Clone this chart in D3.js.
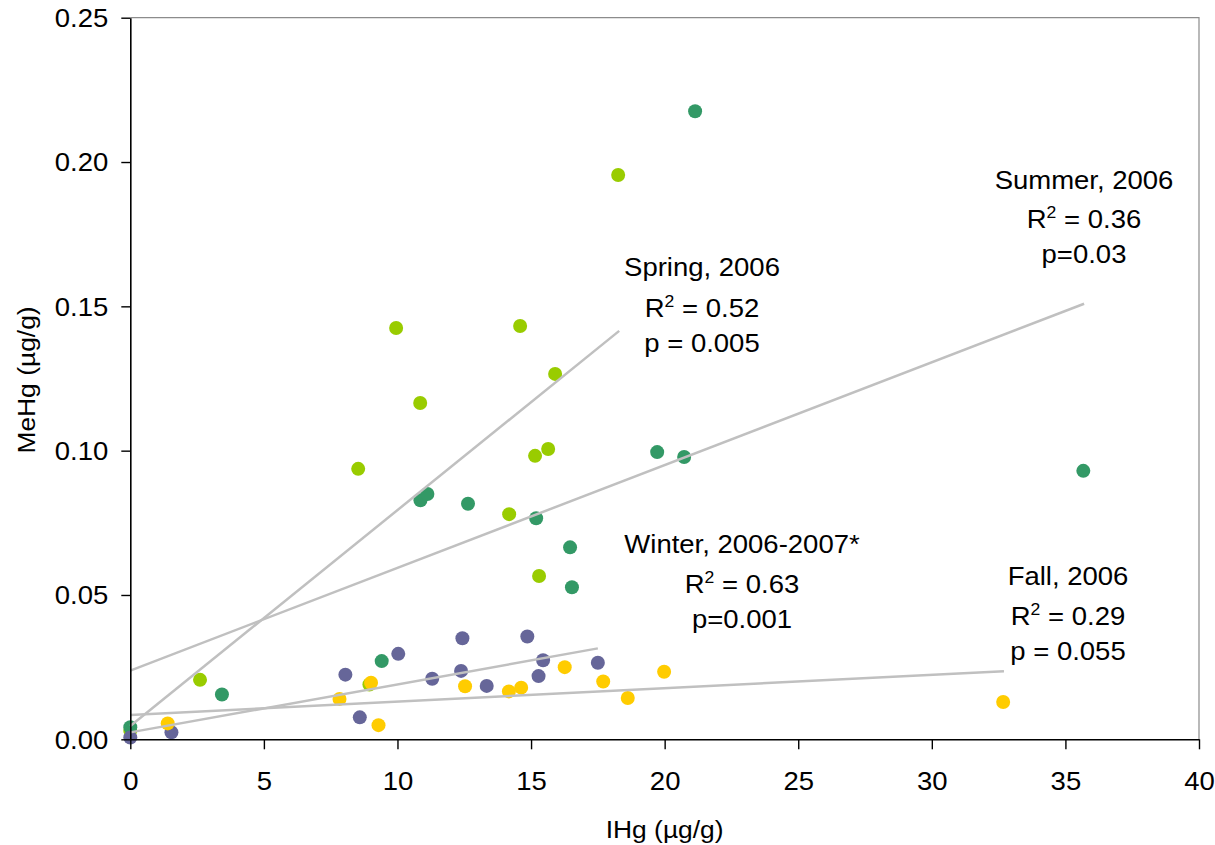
<!DOCTYPE html>
<html><head><meta charset="utf-8">
<script src="https://cdn.jsdelivr.net/npm/d3@7"></script>
<style>
body{margin:0;background:#fff}
svg{display:block}
text{font-family:"Liberation Sans",Arial,sans-serif;fill:#000}
</style>
</head><body>
<svg id="c" width="1215" height="845"></svg>
<script>
// ---- data ----
const xTicks = [0, 5, 10, 15, 20, 25, 30, 35, 40];
const yTicks = [0, 0.05, 0.10, 0.15, 0.20, 0.25];
const xTitle = "IHg (\u00b5g/g)";
const yTitle = "MeHg (\u00b5g/g)";

const springX = [18.26, 9.95, 14.59, 15.9, 10.85, 8.53, 15.64, 15.15, 14.18, 15.3, 2.61, 8.95, 0.0];
const springY = [0.1955, 0.1425, 0.1432, 0.1266, 0.1165, 0.0937, 0.1006, 0.0982, 0.078, 0.0566, 0.0206, 0.019, 0.003];

const summerX = [21.14, 35.67, 19.72, 20.73, 10.86, 11.12, 12.64, 15.19, 16.46, 16.53, 9.41, 3.43, 0.0];
const summerY = [0.2176, 0.093, 0.0995, 0.0978, 0.0828, 0.085, 0.0816, 0.0766, 0.0665, 0.0527, 0.0271, 0.0155, 0.0042];

const winterX = [8.05, 10.03, 8.59, 11.3, 12.43, 12.38, 13.34, 14.86, 15.45, 15.28, 17.5, 1.54, 0.0];
const winterY = [0.0224, 0.0296, 0.0076, 0.021, 0.035, 0.0237, 0.0185, 0.0356, 0.0274, 0.0219, 0.0265, 0.0024, 0.0006];

const fallX = [7.83, 9.01, 9.29, 12.53, 14.17, 14.63, 16.26, 17.7, 18.62, 19.98, 1.4, 32.67];
const fallY = [0.014, 0.0196, 0.0049, 0.0184, 0.0166, 0.0179, 0.025, 0.02, 0.0143, 0.0234, 0.0055, 0.0129];

// regression line endpoints [x, y]
const springFit = [[0, 0.0046], [18.3, 0.1415]];
const summerFit = [[0, 0.0238], [35.7, 0.1509]];
const winterFit = [[0, 0.0024], [17.5, 0.0315]];
const fallFit   = [[0, 0.0084], [32.7, 0.0236]];

const seasonNames = ["Spring, 2006", "Summer, 2006", "Winter, 2006-2007*", "Fall, 2006"];
const r2Values = ["0.52", "0.36", "0.63", "0.29"];
const pTexts = ["p = 0.005", "p=0.03", "p=0.001", "p = 0.055"];

// ---- layout ----
const svg = d3.select("#c");
const L = 130.3, R = 1199, T = 17.7, B = 739.3;
const SX = 1.1; // horizontal glyph stretch of the source
const FS = 25;

const x = d3.scaleLinear().domain([0, 40]).range([L, R]);
const y = d3.scaleLinear().domain([0, 0.25]).range([B, T]);

const colors = ["#99CC00", "#339966", "#666699", "#FFCC00"];

// frame (top & right)
svg.append("path")
  .attr("d", `M${L},${T}H${R}V${B}`)
  .attr("fill", "none").attr("stroke", "#8c8c8c").attr("stroke-width", 1.2);

// points
const series = [
  [springX, springY], [summerX, summerY], [winterX, winterY], [fallX, fallY]
];
series.forEach((s, i) => {
  svg.append("g").selectAll("circle")
    .data(s[0].map((v, k) => [v, s[1][k]]))
    .join("circle")
    .attr("cx", d => x(d[0])).attr("cy", d => y(d[1]))
    .attr("r", 7).attr("fill", colors[i]);
});

// regression lines
const line = d3.line().x(d => x(d[0])).y(d => y(d[1]));
[springFit, summerFit, winterFit, fallFit].forEach(f => {
  svg.append("path").attr("d", line(f))
    .attr("fill", "none").attr("stroke", "#c0c0c0").attr("stroke-width", 2.5);
});

// axes
const yAxis = svg.append("g").attr("transform", `translate(${L},0)`)
  .call(d3.axisLeft(y).tickValues(yTicks).tickFormat(d3.format(".2f")).tickSize(9).tickSizeOuter(0));
yAxis.select(".domain").attr("stroke", "#000").attr("stroke-width", 1.6);
yAxis.selectAll(".tick line").attr("stroke", "#000").attr("stroke-width", 1.4);
yAxis.selectAll(".tick text")
  .attr("x", 0).attr("dy", "0.35em").attr("text-anchor", "end")
  .attr("font-size", FS).attr("font-family", null).attr("fill", "#000")
  .attr("transform", `translate(-22,0) scale(${SX},1)`);

const xAxis = svg.append("g").attr("transform", `translate(0,${B})`)
  .call(d3.axisBottom(x).tickValues(xTicks).tickFormat(d3.format("d")).tickSize(10).tickSizeOuter(0));
xAxis.select(".domain").attr("stroke", "#000").attr("stroke-width", 1.6);
xAxis.selectAll(".tick line").attr("stroke", "#000").attr("stroke-width", 1.4);
xAxis.selectAll(".tick text")
  .attr("y", 0).attr("dy", 0).attr("text-anchor", "middle")
  .attr("font-size", FS).attr("font-family", null).attr("fill", "#000")
  .attr("transform", `translate(0,51) scale(${SX},1)`);
svg.selectAll(".tick text").attr("font-family", null);
svg.selectAll("g").attr("font-family", null).attr("font-size", null);

// axis titles
svg.append("text")
  .attr("transform", `translate(${(L + R) / 2},838) scale(${SX},1)`)
  .attr("text-anchor", "middle").attr("font-size", 24)
  .text(xTitle);
svg.append("text")
  .attr("transform", `translate(35,380) rotate(-90) scale(${SX},1)`)
  .attr("text-anchor", "middle").attr("font-size", 24)
  .text(yTitle);

// annotations (center x, baselines)
const annoPos = [
  [702, [276, 317, 352]],
  [1084, [189, 228, 263]],
  [742, [553, 593, 628]],
  [1068, [585, 625, 660]]
];
seasonNames.forEach((name, i) => {
  const [cx, bl] = annoPos[i];
  svg.append("text")
    .attr("transform", `translate(${cx},${bl[0]}) scale(${SX},1)`)
    .attr("text-anchor", "middle").attr("font-size", FS).text(name);
  const t = svg.append("text")
    .attr("transform", `translate(${cx},${bl[1]}) scale(${SX},1)`)
    .attr("text-anchor", "middle").attr("font-size", FS);
  t.append("tspan").text("R");
  t.append("tspan").attr("font-size", 16).attr("dy", -10).text("2");
  t.append("tspan").attr("dy", 10).text(" = " + r2Values[i]);
  svg.append("text")
    .attr("transform", `translate(${cx},${bl[2]}) scale(${SX},1)`)
    .attr("text-anchor", "middle").attr("font-size", FS).text(pTexts[i]);
});
</script>
</body></html>
